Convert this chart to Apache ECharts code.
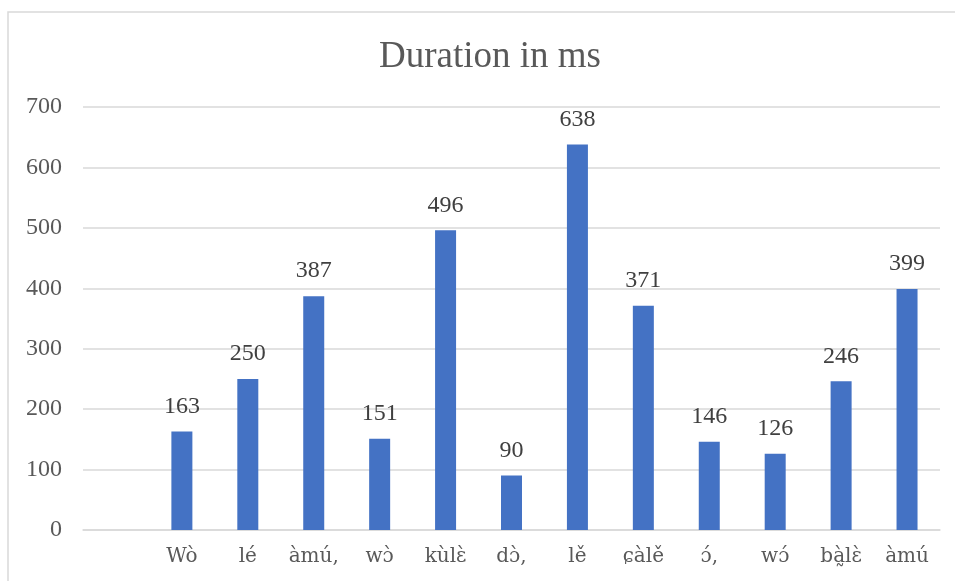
<!DOCTYPE html>
<html>
<head>
<meta charset="utf-8">
<style>
  html, body { margin: 0; padding: 0; background: #ffffff; }
  #chart { width: 955px; height: 581px; }
</style>
<script src="https://cdn.jsdelivr.net/npm/echarts@6/dist/echarts.min.js"></script>
</head>
<body>
<div id="chart"></div>
<script>
// Syllables along the x axis (the first slot is left blank)
const categories = ['', 'Wò', 'lé', 'àmú,', 'wɔ̀', 'kùlɛ̀', 'dɔ̀,', 'lě', 'ɕàlě', 'ɔ́,', 'wɔ́', 'bà̰lɛ̀', 'àmú'];
// Duration of each syllable in milliseconds
const durations = [null, 163, 250, 387, 151, 496, 90, 638, 371, 146, 126, 246, 399];
// Value axis ticks
const yTicks = [0, 100, 200, 300, 400, 500, 600, 700];

const font = '"Liberation Serif", "Times New Roman", serif';
// DejaVu Serif positions the combining tone marks over ɔ and ɛ correctly
const labelFont = '"DejaVu Serif", serif';
const textColor = '#595959';

const chart = echarts.init(document.getElementById('chart'), null, { renderer: 'canvas' });

chart.setOption({
  backgroundColor: '#ffffff',
  animation: false,
  graphic: [{
    type: 'rect',
    shape: { x: 8, y: 12, width: 1000, height: 700 },
    style: { fill: 'none', stroke: '#d9d9d9', lineWidth: 1.5 },
    silent: true,
    z: -1
  }],
  title: {
    text: 'Duration in ms',
    left: 374,
    top: 34,
    textStyle: { fontFamily: font, fontSize: 37, fontWeight: 'normal', color: textColor }
  },
  grid: { left: 83, right: 15, top: 107, bottom: 51, containLabel: false },
  xAxis: {
    type: 'category',
    data: categories,
    axisLine: { show: true, lineStyle: { color: '#d9d9d9', width: 1.5 } },
    axisTick: { show: false },
    axisLabel: { fontFamily: labelFont, fontSize: 20, color: textColor, margin: 17, interval: 0 }
  },
  yAxis: {
    type: 'value',
    min: yTicks[0],
    max: yTicks[yTicks.length - 1],
    interval: yTicks[1] - yTicks[0],
    axisLine: { show: false },
    axisTick: { show: false },
    splitLine: { lineStyle: { color: '#d9d9d9', width: 1.5 } },
    axisLabel: { fontFamily: font, fontSize: 24, color: textColor, margin: 21 }
  },
  series: [{
    type: 'bar',
    data: durations,
    barWidth: 21,
    itemStyle: { color: '#4472c4' },
    label: {
      show: true,
      position: 'top',
      distance: 13,
      fontFamily: font,
      fontSize: 24,
      color: '#404040'
    }
  }]
});
</script>
</body>
</html>
